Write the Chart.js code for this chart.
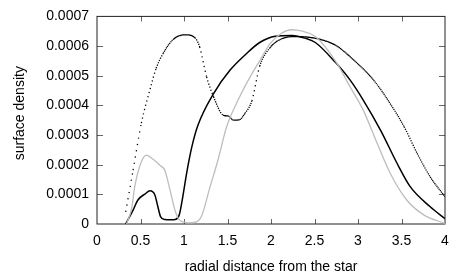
<!DOCTYPE html>
<html>
<head>
<meta charset="utf-8">
<script src="https://cdn.jsdelivr.net/npm/chart.js@4.4.1/dist/chart.umd.min.js"></script>
<style>
  html, body { margin: 0; padding: 0; background: #fff; }
  canvas { display: block; }
</style>
</head>
<body>
<canvas id="chart" width="463" height="278"></canvas>
<script>
// solid black curve
const xSolid = [0.33, 0.415, 0.47, 0.55, 0.61, 0.665, 0.70, 0.73, 0.78, 0.85, 0.90, 0.945, 0.98, 1.03, 1.09, 1.16, 1.34, 1.53, 1.72, 1.87, 2.05, 2.24, 2.40, 2.51, 2.74, 2.91, 3.06, 3.26, 3.45, 3.60, 3.83, 4.0];
const ySolid = [0, 0.000047, 0.000081, 0.000101, 0.000112, 0.000098, 0.000058, 0.000025, 0.000015, 0.000014, 0.000015, 0.000030, 0.000081, 0.000171, 0.000260, 0.000333, 0.000440, 0.000519, 0.000575, 0.000612, 0.000633, 0.000636, 0.000626, 0.000612, 0.000545, 0.000485, 0.000418, 0.000316, 0.000204, 0.000126, 0.000058, 0.000018];

// dotted black curve
const xDotted = [0.33, 0.415, 0.51, 0.61, 0.68, 0.76, 0.875, 1.01, 1.125, 1.18, 1.26, 1.34, 1.45, 1.51, 1.57, 1.64, 1.70, 1.78, 1.87, 1.99, 2.12, 2.28, 2.51, 2.74, 2.95, 3.18, 3.37, 3.53, 3.68, 3.83, 4.0];
const yDotted = [0.000041, 0.000182, 0.000340, 0.000455, 0.000525, 0.000575, 0.000622, 0.000638, 0.000628, 0.000597, 0.000496, 0.000429, 0.000367, 0.000364, 0.000350, 0.000352, 0.000373, 0.000415, 0.000532, 0.000595, 0.000624, 0.000632, 0.000626, 0.000603, 0.000553, 0.000485, 0.000406, 0.000328, 0.000238, 0.000159, 0.000092];

// gray curve
const xGray = [0.34, 0.40, 0.434, 0.51, 0.57, 0.645, 0.72, 0.78, 0.84, 0.895, 0.95, 1.05, 1.12, 1.20, 1.30, 1.39, 1.49, 1.64, 1.76, 1.87, 1.99, 2.12, 2.24, 2.36, 2.51, 2.74, 2.91, 3.06, 3.22, 3.37, 3.56, 3.76, 4.0];
const yGray = [0, 0.000055, 0.000126, 0.000210, 0.000232, 0.000218, 0.000199, 0.000180, 0.000114, 0.000047, 0.000013, 0.000004, 0.000005, 0.000025, 0.000126, 0.000215, 0.000328, 0.000429, 0.000496, 0.000550, 0.000608, 0.000643, 0.000655, 0.000650, 0.000632, 0.000550, 0.000462, 0.000384, 0.000272, 0.000171, 0.000081, 0.000030, 0.000002];

const xTitle = 'radial distance from the star';
const yTitle = 'surface density';

function points(xs, ys) {
  return xs.map((x, i) => ({ x: x, y: ys[i] }));
}

// dotted look: gaps grow with the steepness of the segment
function dotDash(ctx) {
  const dx = Math.abs(ctx.p1.x - ctx.p0.x) || 0.001;
  const s = Math.abs(ctx.p1.y - ctx.p0.y) / dx;
  const gap = Math.max(0, 1.1 * Math.sqrt(1 + s * s) - 1.2);
  return [1.2, gap];
}

// frame with inward ticks on all four sides, plus the y title
const frame = {
  id: 'frame',
  beforeDatasetsDraw(chart) {
    const { ctx, chartArea: a, scales: { x, y } } = chart;
    ctx.save();
    ctx.strokeStyle = '#666';
    ctx.lineWidth = 1;
    ctx.beginPath();
    x.ticks.forEach(t => {
      const px = Math.round(x.getPixelForValue(t.value)) + 0.5;
      if (px <= a.left + 1 || px >= a.right - 1) return;
      ctx.moveTo(px, a.bottom); ctx.lineTo(px, a.bottom - 5);
      ctx.moveTo(px, a.top); ctx.lineTo(px, a.top + 5);
    });
    y.ticks.forEach(t => {
      const py = Math.round(y.getPixelForValue(t.value)) + 0.5;
      if (py <= a.top + 1 || py >= a.bottom - 1) return;
      ctx.moveTo(a.left, py); ctx.lineTo(a.left + 6, py);
      ctx.moveTo(a.right, py); ctx.lineTo(a.right - 6, py);
    });
    ctx.stroke();
    ctx.strokeStyle = '#222';
    ctx.strokeRect(a.left, a.top, a.right - a.left, a.bottom - a.top);

    ctx.translate(20, (a.top + a.bottom) / 2 - 7);
    ctx.rotate(-Math.PI / 2);
    ctx.fillStyle = '#000';
    ctx.font = '14px "Liberation Sans", Arial, sans-serif';
    ctx.textAlign = 'center';
    ctx.textBaseline = 'middle';
    ctx.fillText(yTitle, 0, 0);
    ctx.restore();
  }
};

Chart.defaults.font.family = '"Liberation Sans", Arial, sans-serif';
Chart.defaults.font.size = 14;
Chart.defaults.color = '#000';

new Chart(document.getElementById('chart'), {
  type: 'line',
  data: {
    datasets: [
      {
        data: points(xGray, yGray),
        borderColor: '#bdbdbd',
        borderWidth: 1.3
      },
      {
        data: points(xSolid, ySolid),
        borderColor: '#000',
        borderWidth: 1.5
      },
      {
        data: points(xDotted, yDotted),
        borderColor: '#000',
        borderWidth: 1.3,
        segment: { borderDash: dotDash }
      }
    ]
  },
  options: {
    responsive: false,
    animation: false,
    cubicInterpolationMode: 'monotone',
    elements: { point: { radius: 0 } },
    layout: { padding: { top: 16, right: 18, left: 0, bottom: 0 } },
    plugins: {
      legend: { display: false },
      tooltip: { enabled: false }
    },
    scales: {
      x: {
        type: 'linear',
        min: 0,
        max: 4,
        afterFit: s => { s.height = 54; },
        grid: { display: false, drawTicks: false },
        border: { display: false },
        ticks: { stepSize: 0.5, padding: 9, maxRotation: 0, callback: v => String(v) },
        title: { display: true, text: xTitle, padding: { top: 0, bottom: 2 } }
      },
      y: {
        min: 0,
        max: 0.0007,
        afterFit: s => { s.width = 97; },
        grid: { display: false, drawTicks: false },
        border: { display: false },
        ticks: {
          stepSize: 0.0001,
          padding: 8,
          callback: v => (v === 0 ? '0' : v.toFixed(4))
        }
      }
    }
  },
  plugins: [frame]
});
</script>
</body>
</html>
